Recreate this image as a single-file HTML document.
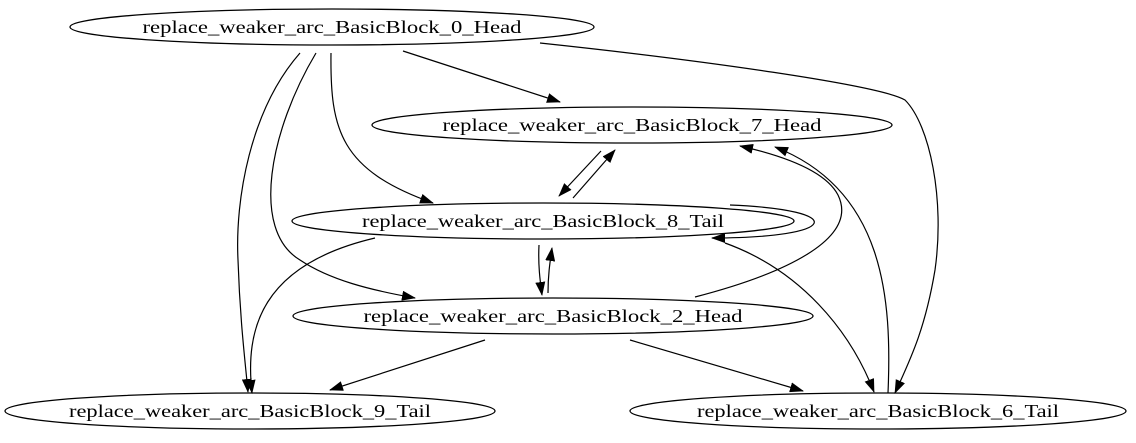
<!DOCTYPE html>
<html><head><meta charset="utf-8"><style>
html,body{margin:0;padding:0;background:#fff;width:1136px;height:443px;overflow:hidden}
</style></head><body>
<svg width="1136" height="443" viewBox="0 0 1136 443" xmlns="http://www.w3.org/2000/svg">
<defs>
<marker id="a" markerWidth="14" markerHeight="10" refX="13" refY="5" orient="auto" markerUnits="userSpaceOnUse"><path d="M0,0 L14,5 L0,10 z" fill="#000"/></marker>
<marker id="b" markerWidth="14" markerHeight="10" refX="1" refY="5" orient="auto" markerUnits="userSpaceOnUse"><path d="M14,0 L0,5 L14,10 z" fill="#000"/></marker>
</defs>
<g fill="none" stroke="#000" stroke-width="1.3">
<ellipse cx="332" cy="27" rx="262" ry="18"/>
<ellipse cx="632" cy="125" rx="260" ry="18"/>
<ellipse cx="543" cy="221" rx="251" ry="18"/>
<ellipse cx="553" cy="316" rx="260" ry="18"/>
<ellipse cx="250" cy="411" rx="245" ry="18"/>
<ellipse cx="878" cy="411" rx="248" ry="18"/>
</g>
<g fill="none" stroke="#000" stroke-width="1.2" marker-end="url(#a)">
<path d="M403,51 L560,102"/>
<path d="M331,53 C330,130 340,170 433,203"/>
<path d="M316,53 C270,130 250,230 300,260 C330,280 370,290 415,298"/>
<path d="M300,53 C250,110 235,200 238,260 C240,320 245,360 248,392"/>
<path d="M540,43 C700,60 880,85 905,100 C930,125 945,200 935,270 C925,330 910,360 895,393"/>
<path d="M573,198 L615,150"/>
<path d="M601,151 L559,196"/>
<path d="M730,205 C850,210 840,238 712,238"/>
<path d="M539,245 C538,265 540,280 542,295"/>
<path d="M548,293 C548,275 550,262 552,248"/>
<path d="M695,297 C780,275 860,240 838,195 C825,170 780,155 740,146"/>
<path d="M888,393 C892,300 885,190 775,147"/>
<path d="M725,243 C800,270 850,330 874,392"/>
<path d="M375,238 C260,265 245,330 252,393"/>
<path d="M485,340 L330,390"/>
<path d="M630,340 L803,391"/>
</g>
<g text-anchor="middle" font-family="'Liberation Serif','DejaVu Serif',serif" font-size="18" fill="#000">
<text x="332" y="33" textLength="379" lengthAdjust="spacingAndGlyphs">replace_weaker_arc_BasicBlock_0_Head</text>
<text x="632" y="131" textLength="379" lengthAdjust="spacingAndGlyphs">replace_weaker_arc_BasicBlock_7_Head</text>
<text x="543" y="227" textLength="362" lengthAdjust="spacingAndGlyphs">replace_weaker_arc_BasicBlock_8_Tail</text>
<text x="553" y="322" textLength="379" lengthAdjust="spacingAndGlyphs">replace_weaker_arc_BasicBlock_2_Head</text>
<text x="250" y="417" textLength="362" lengthAdjust="spacingAndGlyphs">replace_weaker_arc_BasicBlock_9_Tail</text>
<text x="878" y="417" textLength="362" lengthAdjust="spacingAndGlyphs">replace_weaker_arc_BasicBlock_6_Tail</text>
</g>
</svg>
</body></html>
